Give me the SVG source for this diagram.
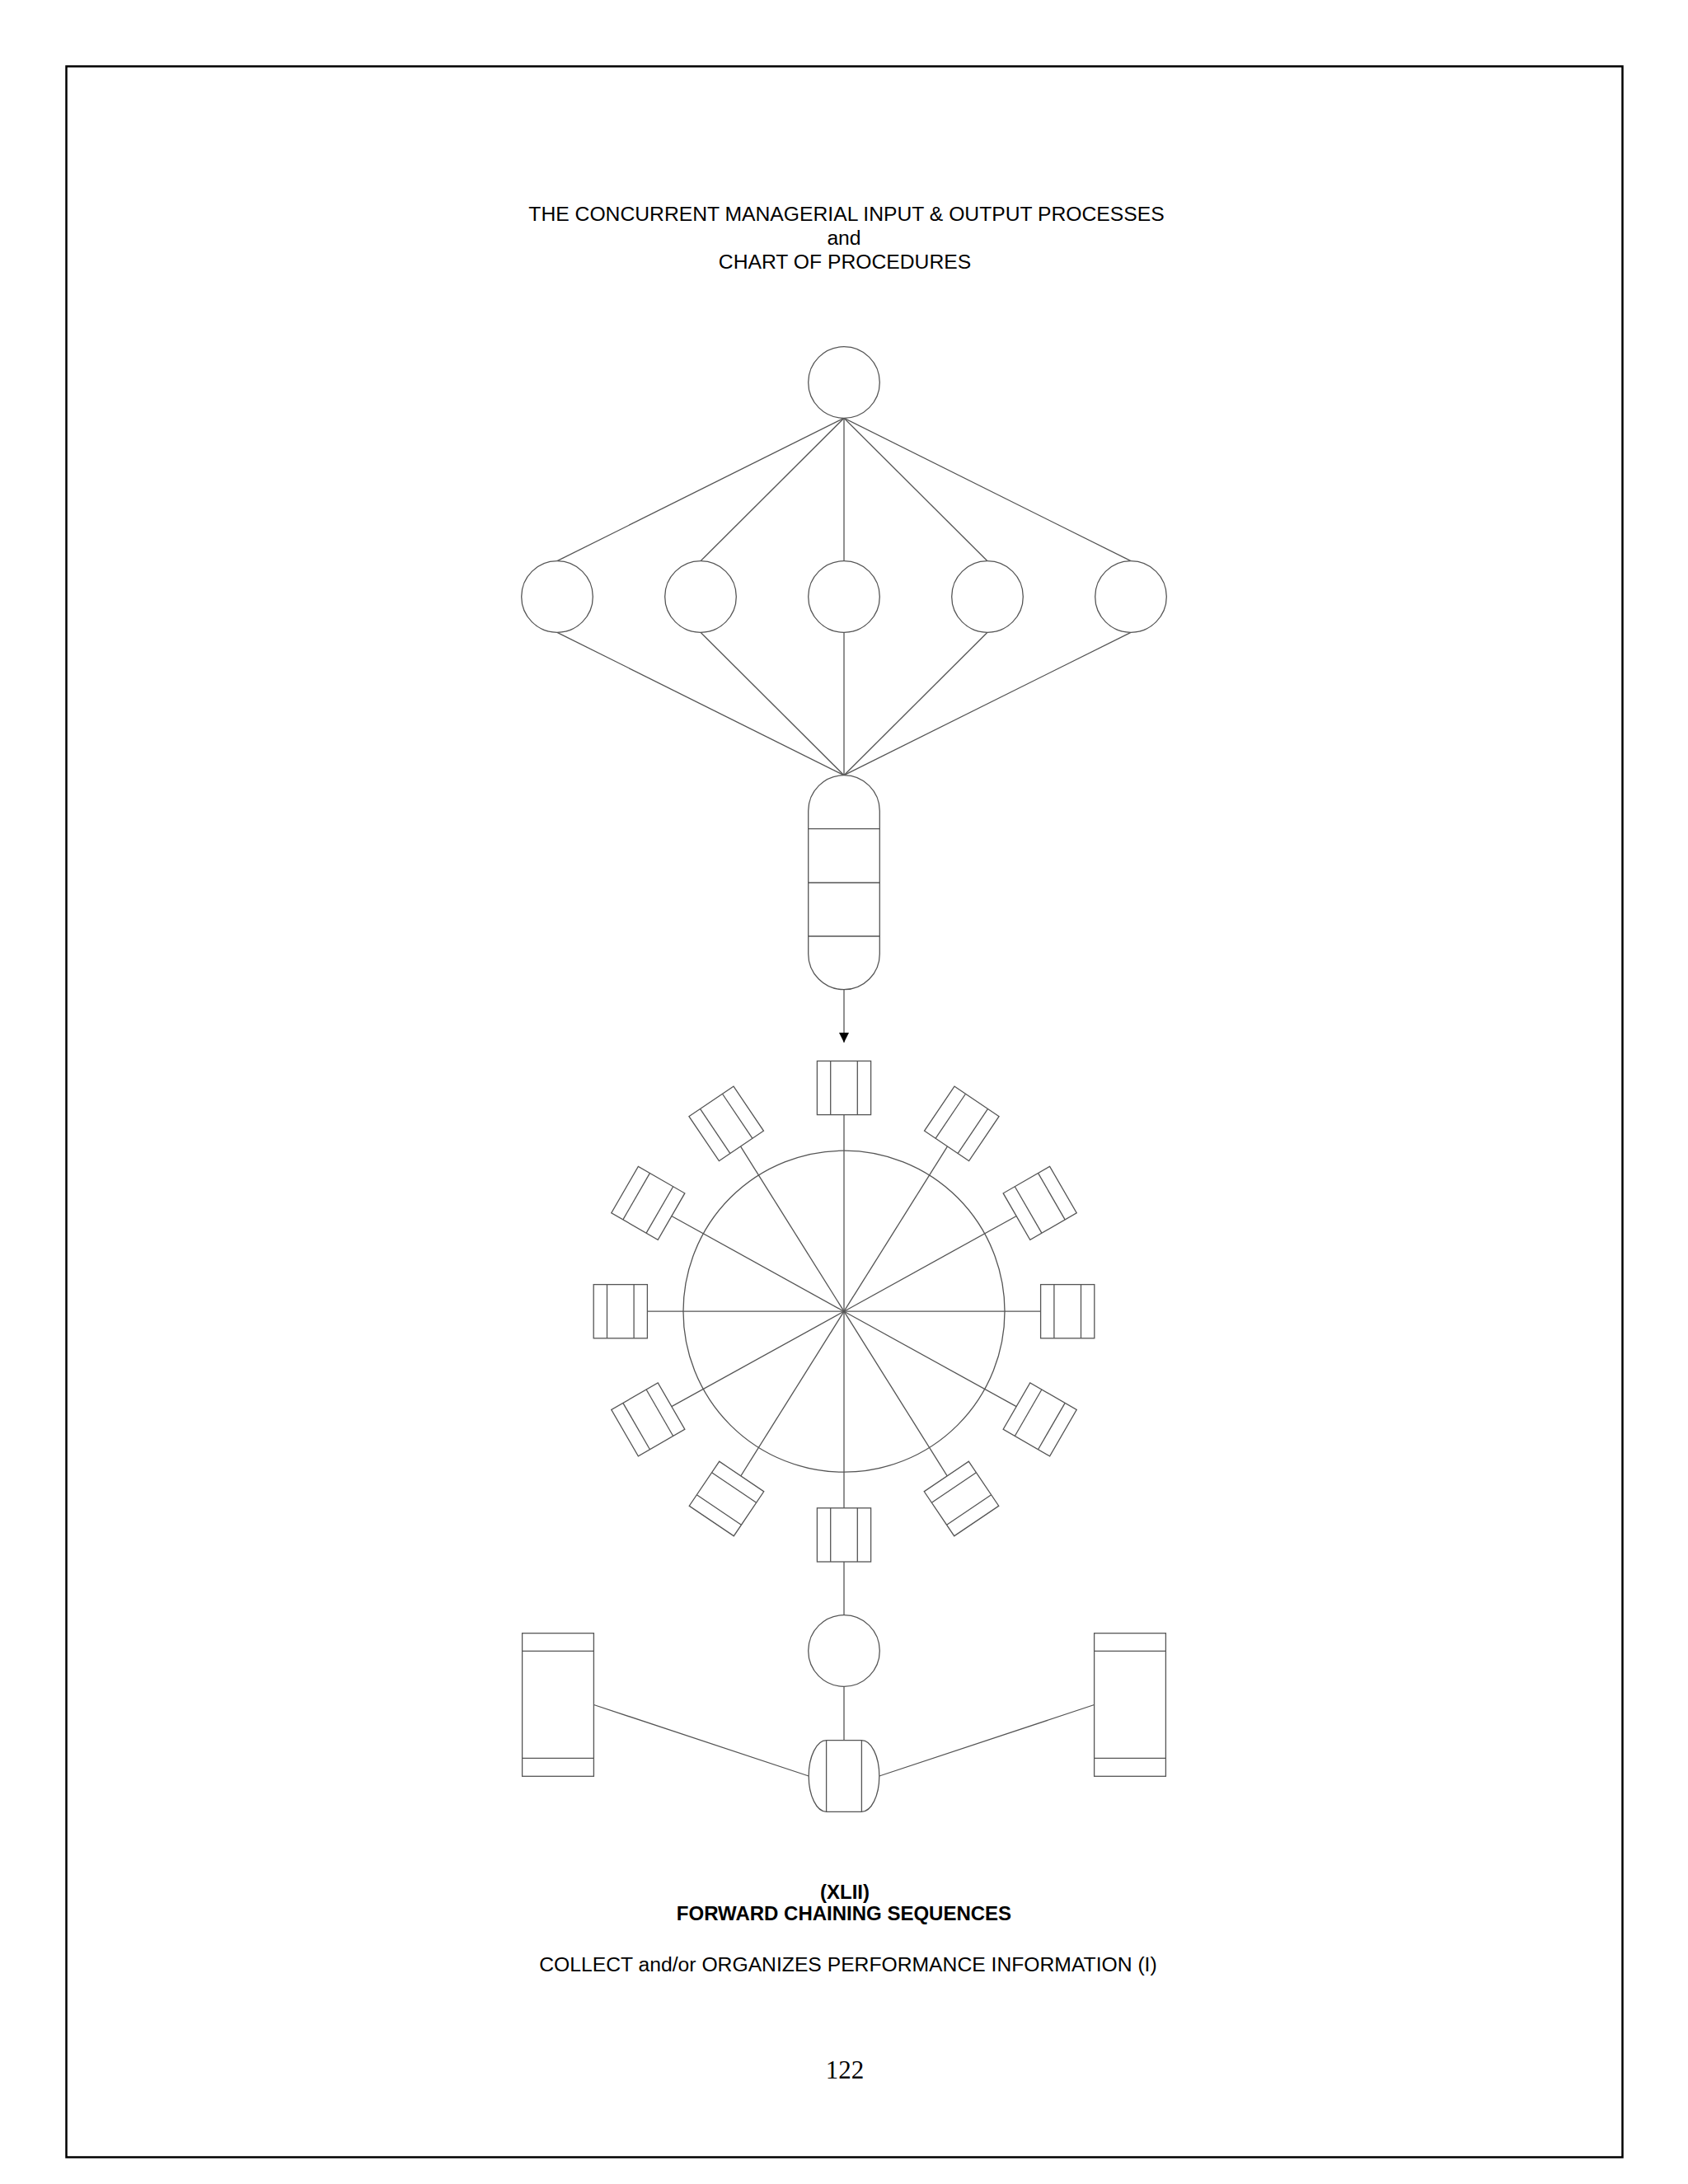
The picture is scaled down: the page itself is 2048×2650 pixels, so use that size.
<svg xmlns="http://www.w3.org/2000/svg" xmlns:xlink="http://www.w3.org/1999/xlink" width="2048" height="2650" viewBox="0 0 2048 2650">
<style>
.s{fill:#fff;stroke:#555;stroke-width:1.3}
.c{fill:none;stroke:#555;stroke-width:1.3}
.t{font-family:"Liberation Sans",Arial,sans-serif;font-size:24.7px;fill:#000;text-anchor:middle}
.b{font-family:"Liberation Sans",Arial,sans-serif;font-size:24px;font-weight:bold;fill:#000;text-anchor:middle}
.n{font-family:"Liberation Serif","Times New Roman",serif;font-size:31px;fill:#000;text-anchor:middle}
</style>
<defs>
<g id="sq">
<rect class="s" x="-32.6" y="-32.6" width="65.2" height="65.2"/>
<line class="c" x1="-16.3" y1="-32.6" x2="-16.3" y2="32.6"/>
<line class="c" x1="16.3" y1="-32.6" x2="16.3" y2="32.6"/>
</g>
<marker id="arr" viewBox="0 0 10 10" refX="10" refY="5" markerWidth="12.5" markerHeight="13" markerUnits="userSpaceOnUse" orient="auto">
<path d="M0,0 L10,5 L0,10 z" fill="#000"/>
</marker>
</defs>
<rect x="80.5" y="80.5" width="1888" height="2537" fill="#fff" stroke="#000" stroke-width="2.5"/>
<g id="title">
<text class="t" x="1027" y="268">THE CONCURRENT MANAGERIAL INPUT &amp; OUTPUT PROCESSES</text>
<text class="t" x="1024" y="297">and</text>
<text class="t" x="1025" y="326">CHART OF PROCEDURES</text>
</g>
<g id="connectors">
<line class="c" x1="1024" y1="507.3" x2="676" y2="680.7"/>
<line class="c" x1="1024" y1="507.3" x2="850" y2="680.7"/>
<line class="c" x1="1024" y1="507.3" x2="1024" y2="680.7"/>
<line class="c" x1="1024" y1="507.3" x2="1198" y2="680.7"/>
<line class="c" x1="1024" y1="507.3" x2="1372" y2="680.7"/>
<line class="c" x1="676" y1="767.3" x2="1024" y2="940.7"/>
<line class="c" x1="850" y1="767.3" x2="1024" y2="940.7"/>
<line class="c" x1="1024" y1="767.3" x2="1024" y2="940.7"/>
<line class="c" x1="1198" y1="767.3" x2="1024" y2="940.7"/>
<line class="c" x1="1372" y1="767.3" x2="1024" y2="940.7"/>
<line class="c" x1="1024" y1="1200.7" x2="1024" y2="1265" marker-end="url(#arr)"/>
<line class="c" x1="1024" y1="1591.2" x2="1024" y2="1320"/>
<line class="c" x1="1024" y1="1591.2" x2="1166.8" y2="1363.4"/>
<line class="c" x1="1024" y1="1591.2" x2="1261.7" y2="1459.8"/>
<line class="c" x1="1024" y1="1591.2" x2="1295.2" y2="1591.2"/>
<line class="c" x1="1024" y1="1591.2" x2="1261.7" y2="1722.4"/>
<line class="c" x1="1024" y1="1591.2" x2="1166.5" y2="1818.5"/>
<line class="c" x1="1024" y1="1591.2" x2="1024" y2="1862.4"/>
<line class="c" x1="1024" y1="1591.2" x2="881.5" y2="1818.5"/>
<line class="c" x1="1024" y1="1591.2" x2="786.3" y2="1722.4"/>
<line class="c" x1="1024" y1="1591.2" x2="752.8" y2="1591.2"/>
<line class="c" x1="1024" y1="1591.2" x2="786.3" y2="1459.8"/>
<line class="c" x1="1024" y1="1591.2" x2="881.2" y2="1363.4"/>
<line class="c" x1="1024" y1="1895" x2="1024" y2="1959.7"/>
<line class="c" x1="1024" y1="2046.3" x2="1024" y2="2111.7"/>
<line class="c" x1="720.4" y1="2068.5" x2="981.2" y2="2155"/>
<line class="c" x1="1327.6" y1="2068.5" x2="1066.8" y2="2155"/>
</g>
<g id="top-circle"><circle class="s" cx="1024" cy="464" r="43.3"/></g>
<g id="circle-1"><circle class="s" cx="676" cy="724" r="43.3"/></g>
<g id="circle-2"><circle class="s" cx="850" cy="724" r="43.3"/></g>
<g id="circle-3"><circle class="s" cx="1024" cy="724" r="43.3"/></g>
<g id="circle-4"><circle class="s" cx="1198" cy="724" r="43.3"/></g>
<g id="circle-5"><circle class="s" cx="1372" cy="724" r="43.3"/></g>
<g id="capsule">
<rect class="s" x="980.7" y="940.7" width="86.6" height="260" rx="43.3" ry="43.3"/>
<line class="c" x1="980.7" y1="1005.7" x2="1067.3" y2="1005.7"/>
<line class="c" x1="980.7" y1="1071" x2="1067.3" y2="1071"/>
<line class="c" x1="980.7" y1="1136" x2="1067.3" y2="1136"/>
</g>
<g id="wheel"><circle class="c" cx="1024" cy="1591.2" r="195"/></g>
<g id="box-00"><use xlink:href="#sq" href="#sq" transform="translate(1024,1320)"/></g>
<g id="box-01"><use xlink:href="#sq" href="#sq" transform="translate(1166.8,1363.4) rotate(34)"/></g>
<g id="box-02"><use xlink:href="#sq" href="#sq" transform="translate(1261.7,1459.8) rotate(-30)"/></g>
<g id="box-03"><use xlink:href="#sq" href="#sq" transform="translate(1295.2,1591.2)"/></g>
<g id="box-04"><use xlink:href="#sq" href="#sq" transform="translate(1261.7,1722.4) rotate(30)"/></g>
<g id="box-05"><use xlink:href="#sq" href="#sq" transform="translate(1166.5,1818.5) rotate(56)"/></g>
<g id="box-06"><use xlink:href="#sq" href="#sq" transform="translate(1024,1862.4)"/></g>
<g id="box-07"><use xlink:href="#sq" href="#sq" transform="translate(881.5,1818.5) rotate(-56)"/></g>
<g id="box-08"><use xlink:href="#sq" href="#sq" transform="translate(786.3,1722.4) rotate(-30)"/></g>
<g id="box-09"><use xlink:href="#sq" href="#sq" transform="translate(752.8,1591.2)"/></g>
<g id="box-10"><use xlink:href="#sq" href="#sq" transform="translate(786.3,1459.8) rotate(30)"/></g>
<g id="box-11"><use xlink:href="#sq" href="#sq" transform="translate(881.2,1363.4) rotate(-34)"/></g>
<g id="lower-circle"><circle class="s" cx="1024" cy="2003" r="43.3"/></g>
<g id="barrel">
<rect class="s" x="981.2" y="2111.7" width="85.6" height="86.6" rx="21.5" ry="43.3"/>
<line class="c" x1="1002.6" y1="2111.7" x2="1002.6" y2="2198.3"/>
<line class="c" x1="1045.4" y1="2111.7" x2="1045.4" y2="2198.3"/>
</g>
<g id="left-box">
<rect class="s" x="633.6" y="1981.7" width="86.8" height="173.6"/>
<line class="c" x1="633.6" y1="2003.3" x2="720.4" y2="2003.3"/>
<line class="c" x1="633.6" y1="2133.3" x2="720.4" y2="2133.3"/>
</g>
<g id="right-box">
<rect class="s" x="1327.6" y="1981.7" width="86.8" height="173.6"/>
<line class="c" x1="1327.6" y1="2003.3" x2="1414.4" y2="2003.3"/>
<line class="c" x1="1327.6" y1="2133.3" x2="1414.4" y2="2133.3"/>
</g>
<g id="caption">
<text class="b" x="1025" y="2304">(XLII)</text>
<text class="b" x="1024" y="2330">FORWARD CHAINING SEQUENCES</text>
<text class="t" x="1029" y="2392">COLLECT and/or ORGANIZES PERFORMANCE INFORMATION (I)</text>
<text class="n" x="1025" y="2522">122</text>
</g>
</svg>
